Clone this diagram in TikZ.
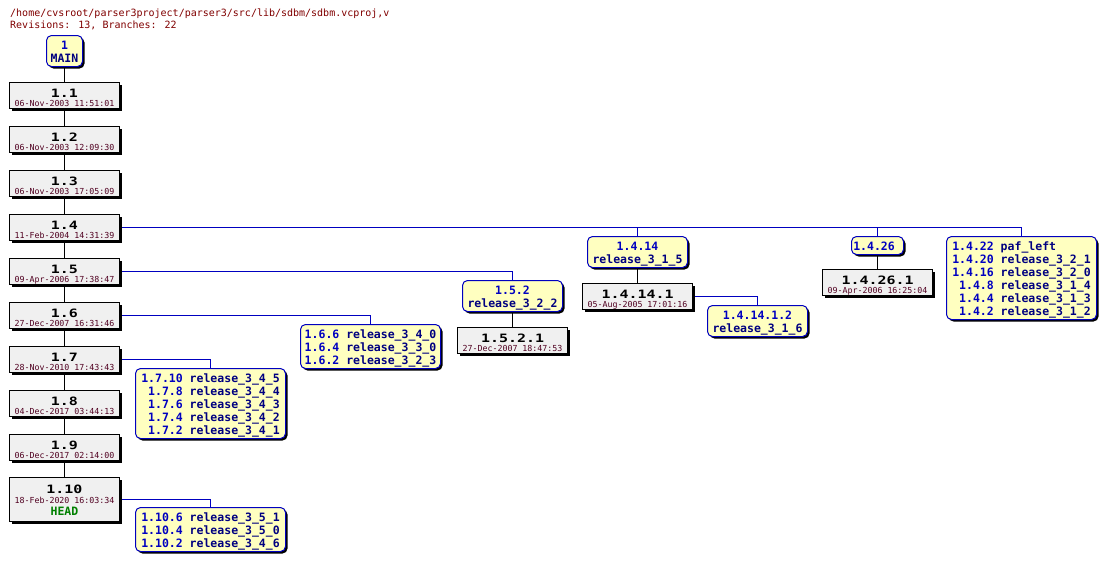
\documentclass[tikz,border=0pt]{standalone}
\usepackage{fontspec}
\usetikzlibrary{shadows,backgrounds}
\newfontfamily\monof{DejaVu Sans Mono}
\definecolor{titlec}{HTML}{800000}
\definecolor{datec}{HTML}{500020}
\definecolor{revbg}{HTML}{F0F0F0}
\definecolor{brbg}{HTML}{FFFFC0}
\definecolor{brc}{HTML}{0000C0}
\definecolor{rvc}{HTML}{0000C0}
\definecolor{tgc}{HTML}{000080}
\definecolor{headc}{HTML}{008000}
\tikzset{
  shad/.style={general shadow={fill=black, shadow xshift=2pt, shadow yshift=-2pt}},
  revbox/.style={draw=black, line width=1pt, fill=revbg, inner sep=0pt, minimum width=110pt, shad},
  brbox/.style={draw=brc, line width=1pt, fill=brbg, rounded corners=5pt, inner sep=0pt, shad},
  revnum/.style={anchor=base, inner sep=0pt, font=\monof\bfseries\fontsize{11.5}{13}\selectfont},
  revdate/.style={anchor=base, inner sep=0pt, text=datec, font=\monof\fontsize{8.3}{10}\selectfont},
  brtext/.style={anchor=north, inner sep=0pt, font=\monof\bfseries\fontsize{11.5}{13}\selectfont},
  headtxt/.style={anchor=base, inner sep=0pt, text=headc, font=\monof\bfseries\fontsize{11.5}{13}\selectfont},
  title/.style={anchor=base west, inner sep=0pt, text=titlec, font=\monof\fontsize{10}{12}\selectfont},
  trunk/.style={draw=black, line width=1pt},
  brl/.style={draw=brc, line width=1pt},
}
\newcommand\rv[1]{\textcolor{rvc}{#1}}
\newcommand\tg[1]{\textcolor{tgc}{#1}}
\newcommand\rn[1]{\scalebox{1.3}[1]{#1}}
% name, cx, top, num, date
\newcommand\revnode[5]{%
  \node[revbox, minimum height=26pt] (#1) at (#2,#3+13) {};
  \node[revnum] at ([yshift=-15.2pt]#1.north) {\rn{#4}};
  \node[revdate] at ([yshift=-24pt]#1.north) {#5};
}
% name, cx, top, width, height, content
\newcommand\brnode[6]{%
  \node[brbox, minimum width=#4pt, minimum height=#5pt] (#1) at (#2,#3+#5/2) {};
  \node[brtext] at ([yshift=-4.8pt]#1.north) {#6};
}
\newcommand\brlist[1]{\begin{tabular}{@{}r@{\hspace{6.92pt}}l@{}}#1\end{tabular}}
\newcommand\brpair[2]{\begin{tabular}{@{}c@{}}\rv{#1}\\\tg{#2}\end{tabular}}
\begin{document}
\begin{tikzpicture}[x=1pt,y=-1pt]
\useasboundingbox (0,0) rectangle (1107,562);
\node[title] (t1) at (10,16.5) {/home/cvsroot/parser3project/parser3/src/lib/sdbm/sdbm.vcproj,v};
\node[title] (t2) at (10,28.5) {Revisions: 13, Branches: 22};

% MAIN
\brnode{main}{64.5}{35.5}{36}{31}{\brpair{1}{MAIN}}

% trunk revisions
\revnode{r11}{64.5}{82.5}{1.1}{06-Nov-2003 11:51:01}
\revnode{r12}{64.5}{126.5}{1.2}{06-Nov-2003 12:09:30}
\revnode{r13}{64.5}{170.5}{1.3}{06-Nov-2003 17:05:09}
\revnode{r14}{64.5}{214.5}{1.4}{11-Feb-2004 14:31:39}
\revnode{r15}{64.5}{258.5}{1.5}{09-Apr-2006 17:38:47}
\revnode{r16}{64.5}{302.5}{1.6}{27-Dec-2007 16:31:46}
\revnode{r17}{64.5}{346.5}{1.7}{28-Nov-2010 17:43:43}
\revnode{r18}{64.5}{390.5}{1.8}{04-Dec-2017 03:44:13}
\revnode{r19}{64.5}{434.5}{1.9}{06-Dec-2017 02:14:00}
\node[revbox, minimum height=44pt] (r110) at (64.5,477.5+22) {};
\node[revnum] at ([yshift=-16pt]r110.north) {\rn{1.10}};
\node[revdate] at ([yshift=-26.3pt]r110.north) {18-Feb-2020 16:03:34};
\node[headtxt] at ([yshift=-38.2pt]r110.north) {HEAD};

% branches
\brnode{b1414}{637.5}{236.5}{100}{31}{\brpair{1.4.14}{release\_3\_1\_5}}
\revnode{r14141}{637.5}{283.5}{1.4.14.1}{05-Aug-2005 17:01:16}
\brnode{b141412}{757.5}{305.5}{100}{31}{\brpair{1.4.14.1.2}{release\_3\_1\_6}}
\brnode{b1426}{877.5}{236.5}{52}{18}{\brlist{\rv{1.4.26}&\\[-13pt]}}
\revnode{r14261}{877.5}{269.5}{1.4.26.1}{09-Apr-2006 16:25:04}
\brnode{b1422}{1021.5}{236.5}{150}{83}{\brlist{%
  \rv{1.4.22}&\tg{paf\_left}\\
  \rv{1.4.20}&\tg{release\_3\_2\_1}\\
  \rv{1.4.16}&\tg{release\_3\_2\_0}\\
  \rv{1.4.8}&\tg{release\_3\_1\_4}\\
  \rv{1.4.4}&\tg{release\_3\_1\_3}\\
  \rv{1.4.2}&\tg{release\_3\_1\_2}}}
\brnode{b152}{512.5}{280.5}{100}{31}{\brpair{1.5.2}{release\_3\_2\_2}}
\revnode{r1521}{512.5}{327.5}{1.5.2.1}{27-Dec-2007 18:47:53}
\brnode{b166}{370.5}{324.5}{140}{44}{\brlist{%
  \rv{1.6.6}&\tg{release\_3\_4\_0}\\
  \rv{1.6.4}&\tg{release\_3\_3\_0}\\
  \rv{1.6.2}&\tg{release\_3\_2\_3}}}
\brnode{b1710}{210.5}{368.5}{150}{70}{\brlist{%
  \rv{1.7.10}&\tg{release\_3\_4\_5}\\
  \rv{1.7.8}&\tg{release\_3\_4\_4}\\
  \rv{1.7.6}&\tg{release\_3\_4\_3}\\
  \rv{1.7.4}&\tg{release\_3\_4\_2}\\
  \rv{1.7.2}&\tg{release\_3\_4\_1}}}
\brnode{b1106}{210.5}{507.5}{150}{44}{\brlist{%
  \rv{1.10.6}&\tg{release\_3\_5\_1}\\
  \rv{1.10.4}&\tg{release\_3\_5\_0}\\
  \rv{1.10.2}&\tg{release\_3\_4\_6}}}

\begin{scope}[on background layer]
\draw[trunk] (main.south) -- (r11.north);
\draw[trunk] (r11.south) -- (r12.north);
\draw[trunk] (r12.south) -- (r13.north);
\draw[trunk] (r13.south) -- (r14.north);
\draw[trunk] (r14.south) -- (r15.north);
\draw[trunk] (r15.south) -- (r16.north);
\draw[trunk] (r16.south) -- (r17.north);
\draw[trunk] (r17.south) -- (r18.north);
\draw[trunk] (r18.south) -- (r19.north);
\draw[trunk] (r19.south) -- (r110.north);
\draw[trunk] (b1414.south) -- (r14141.north);
\draw[trunk] (b1426.south) -- (r14261.north);
\draw[trunk] (b152.south) -- (r1521.north);
\draw[brl] (r14.east) -| (b1422.north);
\draw[brl] (b1414.north) -- (b1414.north |- r14.east);
\draw[brl] (b1426.north) -- (b1426.north |- r14.east);
\draw[brl] (r15.east) -| (b152.north);
\draw[brl] (r16.east) -| (b166.north);
\draw[brl] (r17.east) -| (b1710.north);
\draw[brl] (r110.east) -| (b1106.north);
\draw[brl] (r14141.east) -| (b141412.north);
\end{scope}
\end{tikzpicture}
\end{document}
